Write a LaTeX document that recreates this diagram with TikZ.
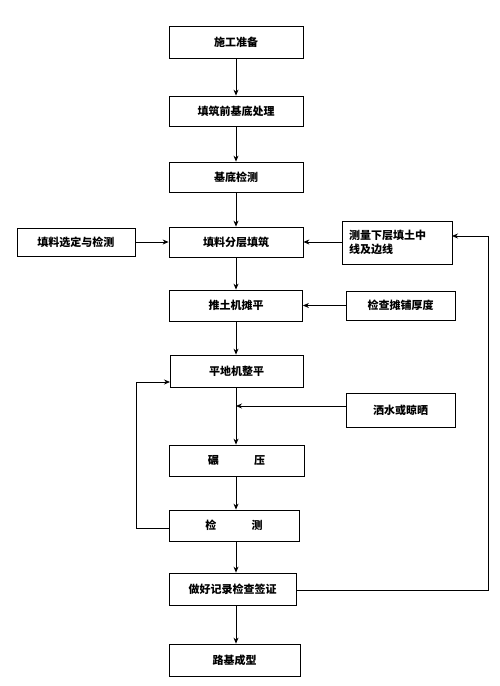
\documentclass[tikz,border=0pt]{standalone}
\usepackage{fontspec}
\newfontfamily\cjk{Noto Sans CJK SC}
\usetikzlibrary{arrows.meta}
\begin{document}
\begin{tikzpicture}[x=1pt,y=-1pt,
  box/.style={draw,line width=0.8pt,minimum width=#1,inner sep=0pt,font=\cjk\bfseries\fontsize{11}{14}\selectfont},
  box/.default=134pt,
  arr/.style={line width=0.8pt,-{Stealth[length=6pt,width=5pt]}},
  ln/.style={line width=0.8pt}]
\useasboundingbox (0,0) rectangle (500,686);
\node[box=134pt,minimum height=32pt] (b1) at (236,42) {施工准备};
\node[box=134pt,minimum height=30pt] (b2) at (236,111) {填筑前基底处理};
\node[box=134pt,minimum height=30pt] (b3) at (236,177) {基底检测};
\node[box=134pt,minimum height=30pt] (b4) at (236,242) {填料分层填筑};
\node[box=118pt,minimum height=28pt] (b5) at (76,242) {填料选定与检测};
\node[box=110pt,minimum height=43pt,align=left,text width=96pt] (b6) at (397,242.5) {测量下层填土中\\线及边线};
\node[box=133pt,minimum height=31pt] (b7) at (236,305.5) {推土机摊平};
\node[box=109pt,minimum height=29pt] (b8) at (400.5,305.5) {检查摊铺厚度};
\node[box=133pt,minimum height=32pt] (b9) at (236.5,371) {平地机整平};
\node[box=109pt,minimum height=34pt] (b10) at (400.5,410) {洒水或晾晒};
\node[box=135pt,minimum height=31pt] (b11) at (236.5,460.5) {碾\hspace{3.2em}压};
\node[box=130pt,minimum height=31pt] (b12) at (234,525.5) {检\hspace{3.2em}测};
\node[box=127pt,minimum height=32pt] (b13) at (232.5,589) {做好记录检查签证};
\node[box=131pt,minimum height=32pt] (b14) at (234.5,660) {路基成型};
\coordinate (m) at (236,406);
\coordinate (ll) at (136,528);
\coordinate (l9) at (170,382);
\coordinate (rr) at (488,590);
\coordinate (r6) at (452,236);
\draw[arr] (b1.south) -- (b1.south |- b2.north);
\draw[arr] (b2.south) -- (b2.south |- b3.north);
\draw[arr] (b3.south) -- (b3.south |- b4.north);
\draw[arr] (b4.south) -- (b4.south |- b7.north);
\draw[arr] (b7.south) -- (b7.south |- b9.north);
\draw[ln] (b9.south -| m) -- (m);
\draw[arr] (m) -- (m |- b11.north);
\draw[arr] (b10.west |- m) -- (m);
\draw[arr] (b11.south -| m) -- (m |- b12.north);
\draw[arr] (b12.south -| m) -- (m |- b13.north);
\draw[arr] (b13.south -| m) -- (m |- b14.north);
\draw[arr] (b5.east) -- (b4.west);
\draw[arr] (b6.west |- b4.east) -- (b4.east);
\draw[arr] (b8.west) -- (b7.east);
\draw[arr] (b12.west |- ll) -- (ll) |- (l9);
\draw[arr] (b13.east |- rr) -- (rr) |- (r6);
\end{tikzpicture}
\end{document}
